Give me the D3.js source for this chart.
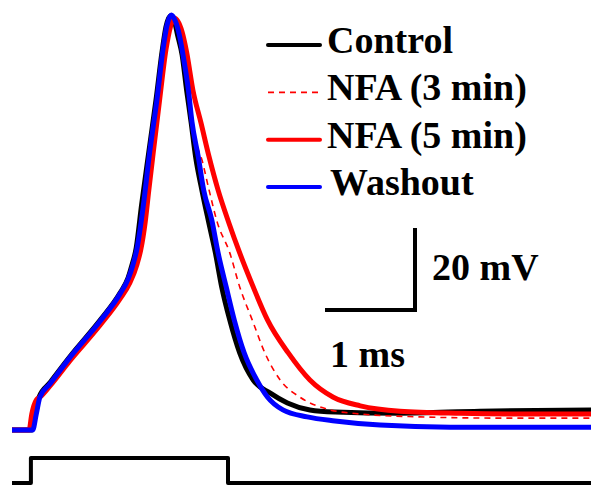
<!DOCTYPE html>
<html>
<head>
<meta charset="utf-8">
<script src="https://cdn.jsdelivr.net/npm/d3@7"></script>
<style>
  body { margin: 0; background: #fff; }
  text { font-family: "Liberation Serif", "Times New Roman", serif; font-weight: bold; fill: #000; }
</style>
</head>
<body>
<div id="vis"></div>
<script>
// traces: [time (ms), membrane potential (mV)]
const control = [
  [0, -60], [0.22, -60], [0.26, -56.1], [0.30, -52.0], [0.42, -48.5], [0.64, -42.2],
  [0.98, -33.2], [1.20, -26.6], [1.29, -22.9], [1.33, -20.0], [1.38, -15.6], [1.44, -5.1],
  [1.52, 7.8], [1.60, 20.5], [1.67, 32.7], [1.71, 38.3], [1.76, 41.0], [1.80, 40.0],
  [1.84, 36.3], [1.89, 31.5], [1.94, 22.9], [1.99, 15.1], [2.04, 6.6], [2.11, -1.5],
  [2.18, -8.8], [2.26, -16.8], [2.33, -25.1], [2.42, -33.2], [2.53, -41.2], [2.68, -47.8],
  [2.87, -51.0], [3.06, -53.4], [3.31, -55.1], [3.59, -55.6], [4.31, -55.9], [5.20, -55.4],
  [6.50, -55.1]
]
const nfa3 = [
  [0, -60], [0.22, -60], [0.26, -56.1], [0.30, -52.0], [0.42, -48.8], [0.64, -42.4],
  [0.98, -33.4], [1.20, -26.8], [1.29, -23.2], [1.34, -20.0], [1.39, -15.6], [1.46, -5.1],
  [1.53, 7.8], [1.61, 20.5], [1.67, 32.7], [1.71, 38.3], [1.76, 41.0], [1.81, 39.8],
  [1.87, 35.1], [1.92, 27.3], [1.98, 19.3], [2.04, 10.7], [2.11, 5.9], [2.19, -1.5],
  [2.28, -9.3], [2.42, -16.8], [2.53, -25.1], [2.67, -33.2], [2.81, -41.2], [2.98, -47.8],
  [3.20, -52.0], [3.50, -54.9], [3.87, -56.1], [4.53, -56.8], [5.42, -57.1], [6.50, -57.1]
]
const nfa5 = [
  [0, -60], [0.19, -60], [0.22, -56.1], [0.27, -52.7], [0.31, -52.0], [0.42, -49.3],
  [0.64, -43.2], [0.98, -34.4], [1.20, -28.0], [1.31, -24.1], [1.39, -19.5], [1.43, -16.1],
  [1.48, -9.3], [1.52, -1.5], [1.57, 7.8], [1.64, 20.5], [1.71, 32.7], [1.76, 38.3],
  [1.80, 40.5], [1.84, 39.8], [1.89, 37.1], [1.94, 32.2], [2.01, 22.9], [2.10, 14.9],
  [2.19, 6.6], [2.29, -1.5], [2.41, -9.5], [2.53, -16.8], [2.68, -25.1], [2.84, -33.2],
  [3.07, -41.2], [3.31, -47.8], [3.57, -52.0], [3.87, -54.1], [4.31, -55.4], [4.98, -55.9],
  [5.70, -56.1], [6.50, -56.1]
]
const washout = [
  [0, -60], [0.23, -60], [0.27, -56.1], [0.31, -52.0], [0.42, -48.8], [0.64, -42.4],
  [0.98, -33.4], [1.20, -26.8], [1.29, -23.2], [1.34, -20.0], [1.39, -15.6], [1.46, -5.1],
  [1.53, 7.8], [1.61, 20.5], [1.68, 33.2], [1.72, 38.5], [1.77, 41.2], [1.81, 40.0],
  [1.86, 36.3], [1.90, 31.5], [1.96, 22.9], [2.00, 15.1], [2.07, 6.6], [2.13, -1.5],
  [2.22, -8.8], [2.29, -16.8], [2.38, -25.1], [2.47, -33.2], [2.58, -41.2], [2.72, -47.8],
  [2.84, -52.0], [3.01, -55.1], [3.28, -56.8], [3.59, -57.8], [4.09, -58.8], [4.87, -59.3],
  [6.50, -59.3]
]
// stimulus command: [time (ms), on/off]
const stimulus = [[0, 0], [0.21, 0], [0.21, 1], [2.40, 1], [2.40, 0], [6.50, 0]]

const labels = ['Control', 'NFA (3 min)', 'NFA (5 min)', 'Washout']
const scaleBarMs = 1
const scaleBarMv = 20

const W = 591, H = 485

let x = d3.scaleLinear().domain([0, 6.5]).range([12, 597])
let y = d3.scaleLinear().domain([-60, 40]).range([430, 20])
let yStim = d3.scaleLinear().domain([0, 1]).range([483, 458])

const series = [
  {name: labels[0], data: control, color: '#000000', width: 5, dash: null},
  {name: labels[1], data: nfa3, color: '#ff0000', width: 1.6, dash: '6,5'},
  {name: labels[2], data: nfa5, color: '#ff0000', width: 5, dash: null},
  {name: labels[3], data: washout, color: '#0000ff', width: 5, dash: null}
]

let svg = d3.select('#vis')
  .append('svg')
  .attr('width', W)
  .attr('height', H)

let line = d3.line()
  .x(d => x(d[0]))
  .y(d => y(d[1]))
  .curve(d3.curveMonotoneX)

svg.selectAll('.trace')
  .data(series)
  .enter()
  .append('path')
    .attr('class', 'trace')
    .attr('d', d => line(d.data))
    .attr('fill', 'none')
    .attr('stroke', d => d.color)
    .attr('stroke-width', d => d.width)
    .attr('stroke-dasharray', d => d.dash)
    .attr('stroke-linejoin', 'round')

// stimulus step
let stimLine = d3.line()
  .x(d => x(d[0]))
  .y(d => yStim(d[1]))

svg.append('path')
  .attr('d', stimLine(stimulus))
  .attr('fill', 'none')
  .attr('stroke', '#000')
  .attr('stroke-width', 4)
  .attr('stroke-linejoin', 'round')

// legend
let legend = svg.append('g').attr('class', 'legend')
let rowY = d3.scaleLinear().domain([0, 3]).range([45, 187])

legend.selectAll('line')
  .data(series)
  .enter()
  .append('line')
    .attr('x1', 268)
    .attr('x2', 320)
    .attr('y1', (d, i) => rowY(i))
    .attr('y2', (d, i) => rowY(i))
    .attr('stroke', d => d.color)
    .attr('stroke-width', d => d.dash ? 1.6 : 4)
    .attr('stroke-dasharray', d => d.dash)
    .attr('stroke-linecap', d => d.dash ? 'butt' : 'round')

legend.selectAll('text')
  .data(series)
  .enter()
  .append('text')
    .attr('x', (d, i) => i === 3 ? 330 : 327)
    .attr('y', (d, i) => rowY(i) + 8)
    .attr('font-size', 38)
    .text(d => d.name)

// scale bar
let barT = x.invert(415), barV = y.invert(310)
svg.append('path')
  .attr('d', `M${x(barT - scaleBarMs)},${y(barV)} L${x(barT)},${y(barV)} L${x(barT)},${y(barV + scaleBarMv)}`)
  .attr('fill', 'none')
  .attr('stroke', '#000')
  .attr('stroke-width', 4)
  .attr('stroke-linejoin', 'miter')

svg.append('text')
  .attr('x', 432)
  .attr('y', 280)
  .attr('font-size', 38)
  .text(`${scaleBarMv} mV`)

svg.append('text')
  .attr('x', 330)
  .attr('y', 367)
  .attr('font-size', 38)
  .text(`${scaleBarMs} ms`)
</script>
</body>
</html>
